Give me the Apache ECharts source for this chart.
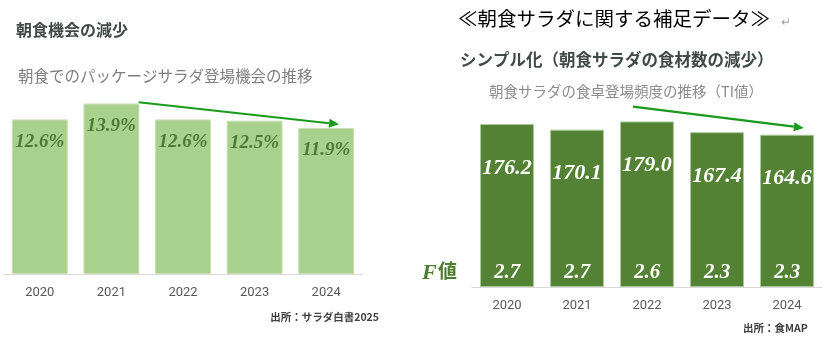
<!DOCTYPE html>
<html>
<head>
<meta charset="utf-8">
<script src="https://cdn.jsdelivr.net/npm/echarts@6/dist/echarts.min.js"></script>
<style>
  html, body { margin: 0; padding: 0; background: #ffffff; }
  #chart { width: 831px; height: 345px; }
</style>
</head>
<body>
<div id="chart"></div>
<script>
// 朝食でのパッケージサラダ登場機会（%）
const years = ['2020', '2021', '2022', '2023', '2024'];
const saladShare = [12.6, 13.9, 12.6, 12.5, 11.9];
// 朝食サラダの食卓登場頻度（TI値）と食材数（F値）
const tiValues = [176.2, 170.1, 179.0, 167.4, 164.6];
const fValues = [2.7, 2.7, 2.6, 2.3, 2.3];

const JP = '"Noto Sans CJK JP", "Noto Sans", sans-serif';
const SERIF = '"Liberation Serif", "DejaVu Serif", serif';
const ARROW = '#1a9a1a';

const chart = echarts.init(document.getElementById('chart'), null, { renderer: 'canvas' });

const catAxis = (gridIndex) => ({
  type: 'category',
  gridIndex,
  data: years,
  axisTick: { show: false },
  axisLine: { lineStyle: { color: '#d9d9d9', width: 1 } },
  axisLabel: { color: '#595959', fontSize: 13, fontFamily: 'Roboto, "Noto Sans", sans-serif', margin: 12 }
});

const valAxis = (gridIndex, max) => ({
  type: 'value',
  gridIndex,
  min: 0,
  max,
  show: false,
  splitLine: { show: false }
});

chart.setOption({
  animation: false,
  backgroundColor: '#ffffff',
  grid: [
    { left: 4, top: 90, width: 358, height: 184 },
    { left: 472, top: 102, width: 350, height: 185 }
  ],
  xAxis: [catAxis(0), catAxis(1)],
  yAxis: [valAxis(0, 15), valAxis(1, 200)],
  series: [
    {
      type: 'bar',
      xAxisIndex: 0,
      yAxisIndex: 0,
      data: saladShare,
      barWidth: '78%',
      itemStyle: { color: '#a9d18e', borderColor: '#c5e0b4', borderWidth: 1 },
      label: {
        show: true,
        position: 'insideTop',
        distance: 13,
        formatter: (p) => p.value.toFixed(1) + '%',
        color: '#4e7a33',
        fontFamily: SERIF,
        fontStyle: 'italic',
        fontWeight: 'bold',
        fontSize: 19
      }
    },
    {
      type: 'bar',
      xAxisIndex: 1,
      yAxisIndex: 1,
      data: tiValues,
      barWidth: '77%',
      itemStyle: { color: '#548235', borderColor: '#a9c79a', borderWidth: 1 },
      label: {
        show: true,
        position: 'insideTop',
        distance: 33,
        formatter: (p) => p.value.toFixed(1),
        color: '#ffffff',
        fontFamily: SERIF,
        fontStyle: 'italic',
        fontWeight: 'bold',
        fontSize: 22
      }
    },
    {
      // F値 labels along the base of each TI bar
      type: 'bar',
      xAxisIndex: 1,
      yAxisIndex: 1,
      data: tiValues,
      barWidth: '77%',
      barGap: '-100%',
      silent: true,
      itemStyle: { color: 'rgba(0,0,0,0)' },
      label: {
        show: true,
        position: 'insideBottom',
        distance: 4,
        formatter: (p) => fValues[p.dataIndex].toFixed(1),
        color: '#ffffff',
        fontFamily: SERIF,
        fontStyle: 'italic',
        fontWeight: 'bold',
        fontSize: 21
      }
    }
  ]
});

// Trend arrows, anchored to the bar positions on each axis
function px(xIdx, cat, yIdx, val) {
  const x = chart.convertToPixel({ xAxisIndex: xIdx }, cat);
  const y = chart.convertToPixel({ yAxisIndex: yIdx }, val);
  return [x, y];
}
function bandWidth(xIdx) {
  return chart.convertToPixel({ xAxisIndex: xIdx }, years[1]) - chart.convertToPixel({ xAxisIndex: xIdx }, years[0]);
}
function arrow(p0, p1) {
  const dx = p1[0] - p0[0], dy = p1[1] - p0[1];
  const len = Math.hypot(dx, dy);
  const ux = dx / len, uy = dy / len;
  const hl = 10, hw = 4.5;
  const bx = p1[0] - ux * hl, by = p1[1] - uy * hl;
  return [
    { type: 'line', shape: { x1: p0[0], y1: p0[1], x2: bx, y2: by }, style: { stroke: ARROW, lineWidth: 2.2 } },
    { type: 'polygon', shape: { points: [p1, [bx - uy * hw, by + ux * hw], [bx + uy * hw, by - ux * hw]] }, style: { fill: ARROW } }
  ];
}

const bwL = bandWidth(0), bwR = bandWidth(1);
const l0 = px(0, '2021', 0, 14.0); l0[0] += bwL * 0.38;
const l1 = px(0, '2024', 0, 12.2); l1[0] += bwL * 0.18;
const r0 = px(1, '2022', 1, 195); r0[0] -= bwR * 0.2;
const r1 = px(1, '2024', 1, 172); r1[0] += bwR * 0.24;

chart.setOption({
  graphic: [
    { type: 'text', left: 16, top: 22, style: { text: '朝食機会の減少', font: 'bold 16px ' + JP, fill: '#404a46' } },
    { type: 'text', left: 18, top: 68, style: { text: '朝食でのパッケージサラダ登場機会の推移', font: '15.5px ' + JP, fill: '#7f7f7f' } },
    { type: 'text', right: 452, top: 312, style: { text: '出所：サラダ白書2025', font: 'bold 10.5px ' + JP, fill: '#404040' } },

    { type: 'text', left: 458, top: 9, style: { text: '≪朝食サラダに関する補足データ≫', font: '19.5px ' + JP, fill: '#000000' } },
    { type: 'text', left: 781, top: 15, style: { text: '↵', font: '12px ' + JP, fill: '#a0a0a0' } },
    { type: 'text', left: 460, top: 51, style: { text: 'シンプル化（朝食サラダの食材数の減少）', font: 'bold 16.5px ' + JP, fill: '#404a46' } },
    { type: 'text', left: 489, top: 84, style: { text: '朝食サラダの食卓登場頻度の推移（TI値）', font: '14.5px ' + JP, fill: '#8c8c8c' } },
    { type: 'text', left: 743, top: 323, style: { text: '出所：食MAP', font: 'bold 10.5px ' + JP, fill: '#404040' } },

    { type: 'text', left: 422, top: 262, style: { text: 'F', font: 'bold italic 22px ' + SERIF, fill: '#4e7c30' } },
    { type: 'text', left: 438, top: 261, style: { text: '値', font: 'bold 19px ' + JP, fill: '#4e7c30' } },

    ...arrow(l0, l1),
    ...arrow(r0, r1)
  ]
});
</script>
</body>
</html>
